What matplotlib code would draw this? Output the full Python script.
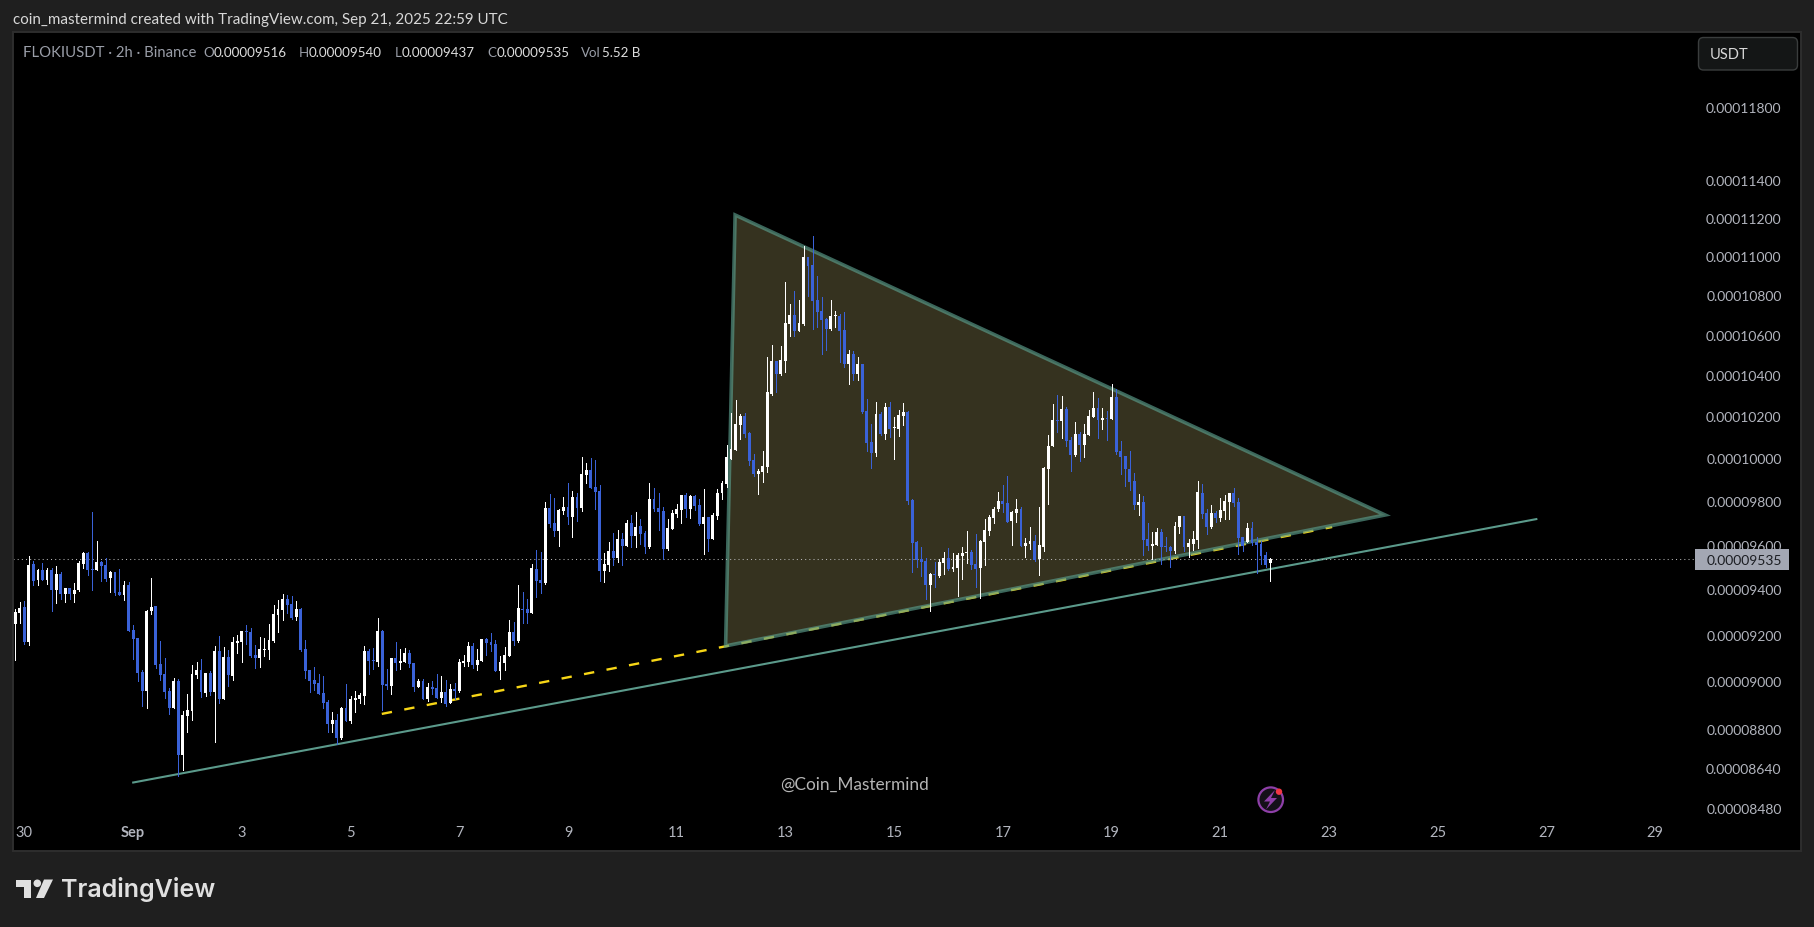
import matplotlib
matplotlib.use("Agg")
import matplotlib.pyplot as plt
from matplotlib.patches import Polygon, Circle, FancyBboxPatch, Rectangle
from matplotlib.transforms import Affine2D
from matplotlib.ticker import NullLocator

FONT = ['Lato', 'DejaVu Sans']
plt.rcParams['font.family'] = FONT

UNIT = 1e-8
opens = [
 9245,9296,9322,9169,9513,9441,9486,9441,9486,9397,
 9468,9379,9406,9379,9397,9513,9562,9490,9486,9522,
 9508,9451,9477,9388,9375,9419,9221,9186,9040,8960,
 9304,9326,9074,9032,8960,8888,9002,8693,8855,8876,
 9027,9049,8951,9036,8956,9130,8926,9104,9023,9165,
 9169,9217,9213,9113,9100,9136,9135,9174,9287,9309,
 9357,9335,9278,9313,9139,9049,9006,8994,8951,8913,
 8821,8838,8763,8888,8834,8922,8926,8939,9130,9091,
 9084,9217,8989,8981,9100,9079,9084,9122,9079,8977,
 9002,8926,8977,8973,8930,8956,8909,8968,8960,9079,
 9084,9152,9070,9087,9182,9169,9161,9044,9079,9108,
 9213,9174,9313,9313,9296,9490,9441,9428,9768,9699,
 9662,9754,9772,9726,9818,9768,9921,9944,9865,9846,
 9481,9508,9571,9540,9626,9594,9699,9639,9685,9653,
 9590,9809,9768,9754,9580,9671,9740,9758,9828,9763,
 9823,9781,9694,9726,9626,9731,9837,9879,9996,10038,
 10157,10200,10119,9991,9925,9935,9958,10306,10468,10404,
 10468,10653,10698,10618,10653,10995,10953,10774,10719,10678,
 10628,10693,10693,10623,10453,10503,10404,10453,10224,10076,
 10024,10210,10114,10244,10143,10138,10200,10220,9804,9612,
 9535,9526,9419,9468,9459,9517,9540,9490,9495,9549,
 9562,9567,9513,9495,9612,9662,9722,9763,9800,9791,
 9708,9745,9763,9594,9603,9617,9535,9590,9948,10057,
 10181,10176,10234,10086,10015,10114,10062,10109,10196,10239,
 10181,10191,10186,10291,10034,10010,9948,9893,9781,9795,
 9626,9594,9599,9658,9594,9590,9571,9680,9731,9590,
 9603,9621,9837,9745,9680,9745,9722,9754,9795,9837,
 9795,9635,9612,9676,9612,9603,9553,9516]
highs = [
 9312,9342,9347,9547,9525,9490,9517,9493,9493,9504,
 9475,9406,9406,9428,9526,9565,9565,9748,9617,9528,
 9538,9481,9477,9490,9437,9431,9243,9186,9049,9309,
 9450,9326,9174,9100,8973,9015,9011,8876,8947,9070,
 9084,9096,9036,9044,9152,9195,9148,9135,9191,9199,
 9217,9243,9230,9156,9191,9186,9247,9331,9353,9379,
 9375,9370,9348,9318,9178,9049,9061,9032,9023,8922,
 8871,8863,8892,8989,8939,8960,8951,9152,9139,9143,
 9274,9221,9053,9100,9169,9139,9143,9135,9079,9011,
 9011,8994,9002,9032,9023,9006,8989,8994,9096,9113,
 9169,9165,9139,9182,9186,9208,9178,9108,9148,9265,
 9256,9419,9388,9357,9513,9576,9567,9795,9832,9814,
 9763,9818,9883,9846,9837,10005,9977,10000,9989,9874,
 9562,9612,9653,9667,9653,9713,9736,9749,9717,9662,
 9883,9860,9837,9772,9717,9758,9786,9828,9837,9828,
 9828,9809,9855,9726,9745,9855,9893,10062,10215,10277,
 10210,10215,10124,10019,9948,10034,10488,10548,10468,10543,
 10866,10754,10820,10774,11052,10995,11104,10897,10789,10683,
 10774,10719,10703,10713,10523,10518,10488,10453,10282,10162,
 10268,10220,10263,10268,10196,10229,10263,10224,9809,9617,
 9590,9540,9472,9522,9535,9567,9585,9562,9562,9590,
 9662,9576,9648,9621,9717,9736,9772,9842,9874,9916,
 9754,9809,9772,9630,9680,9644,9772,9958,10109,10258,
 10301,10297,10244,10100,10172,10124,10162,10229,10316,10287,
 10239,10224,10355,10331,10081,10010,10034,9930,9832,9823,
 9699,9658,9676,9671,9635,9594,9703,9731,9731,9626,
 9662,9893,9879,9763,9781,9754,9814,9828,9837,9860,
 9814,9635,9699,9703,9635,9617,9567,9540]
lows = [
 9093,9252,9161,9156,9419,9419,9441,9424,9304,9339,
 9357,9345,9357,9344,9393,9493,9464,9397,9486,9437,
 9437,9388,9375,9375,9353,9217,9096,9002,8897,8888,
 9291,9057,9006,8930,8863,8888,8609,8631,8787,8838,
 9015,8935,8939,8943,8746,8909,8926,8981,9006,9122,
 9084,9161,9104,9057,9061,9108,9096,9169,9213,9265,
 9296,9269,9265,9130,9015,8956,8964,8947,8888,8787,
 8787,8738,8759,8834,8826,8871,8909,8905,9032,9053,
 9066,8880,8968,8947,9049,9053,9084,9061,8960,8977,
 8926,8918,8947,8930,8913,8897,8909,8926,8956,9066,
 9066,9057,9049,9087,9113,9130,9044,9011,9049,9108,
 9156,9169,9252,9252,9296,9366,9384,9424,9680,9639,
 9594,9740,9694,9635,9708,9754,9883,9860,9763,9437,
 9433,9481,9508,9522,9508,9594,9590,9590,9603,9562,
 9585,9754,9667,9535,9576,9671,9726,9699,9726,9722,
 9758,9690,9558,9571,9626,9717,9809,9865,9996,10038,
 10090,10100,9967,9916,9832,9888,9935,10301,10316,10399,
 10414,10593,10593,10618,10648,10794,10628,10638,10503,10523,
 10623,10638,10463,10438,10355,10375,10375,10215,10034,9953,
 10010,10109,10090,10100,9996,10105,10157,9786,9477,9499,
 9459,9357,9304,9410,9455,9468,9486,9481,9370,9446,
 9517,9490,9410,9361,9508,9644,9699,9754,9749,9703,
 9599,9703,9594,9544,9580,9526,9464,9571,9786,10057,
 10124,10095,10057,9939,10010,9986,10005,10109,10196,10095,
 10138,10086,10186,10019,9925,9869,9851,9763,9736,9553,
 9576,9535,9599,9513,9571,9499,9562,9653,9571,9544,
 9576,9585,9722,9648,9676,9703,9708,9717,9717,9777,
 9558,9571,9612,9599,9472,9513,9499,9437]
closes = [
 9300,9318,9169,9508,9437,9486,9441,9486,9397,9468,
 9379,9406,9379,9397,9517,9562,9486,9487,9522,9504,
 9446,9477,9384,9375,9419,9217,9182,9036,8960,9304,
 9322,9070,9027,8956,8888,9002,8693,8859,8880,9032,
 9049,8956,9036,8956,9130,8926,9104,9027,9169,9174,
 9217,9213,9108,9100,9139,9139,9178,9291,9313,9357,
 9331,9274,9313,9135,9044,9002,8989,8947,8909,8821,
 8838,8763,8888,8834,8926,8930,8943,9130,9087,9087,
 9217,8985,8981,9100,9079,9087,9122,9074,8977,9002,
 8926,8977,8968,8930,8956,8905,8968,8960,9084,9087,
 9152,9070,9091,9182,9165,9156,9044,9084,9113,9213,
 9174,9318,9309,9296,9495,9437,9428,9768,9694,9662,
 9758,9772,9726,9818,9768,9925,9944,9860,9842,9481,
 9513,9571,9540,9626,9594,9699,9639,9680,9648,9590,
 9809,9763,9749,9580,9676,9745,9763,9828,9763,9823,
 9777,9694,9726,9626,9736,9837,9883,10005,10043,10162,
 10200,10114,9986,9925,9939,9962,10316,10468,10404,10473,
 10658,10698,10618,10658,10995,10948,10769,10713,10674,10628,
 10693,10698,10618,10453,10503,10404,10453,10220,10071,10024,
 10210,10114,10244,10138,10148,10205,10220,9800,9608,9530,
 9522,9419,9468,9464,9522,9540,9490,9499,9553,9562,
 9567,9508,9490,9617,9667,9726,9763,9800,9786,9703,
 9749,9763,9594,9608,9617,9530,9599,9953,10057,10181,
 10176,10234,10081,10015,10114,10062,10114,10200,10239,10181,
 10191,10186,10291,10029,10005,9948,9888,9781,9795,9621,
 9594,9603,9658,9590,9590,9571,9685,9731,9590,9608,
 9626,9842,9740,9680,9745,9722,9758,9800,9837,9791,
 9630,9594,9676,9608,9599,9549,9508,9535]

price_ticks = [11800,11400,11200,11000,10800,10600,10400,10200,10000,9800,9600,9400,9200,9000,8800,8640,8480]
date_ticks = [2,26,50,74,98,122,146,170,194,218,242,266,290,314,338,362]
date_labels = ['30','Sep','3','5','7','9','11','13','15','17','19','21','23','25','27','29']

# drawings, in (bar index, price)
triangle_bars = [158.9, 156.8, 302.4]
triangle_prices = [11215, 9152, 9735]
trend_bars = [25.8, 336.0]
trend_prices = [8580, 9717]
dashed_bars = [80.9, 290.7]
dashed_prices = [8863, 9680]

BG = '#1f1f1f'
BLUE = '#3a62d8'
WHITE = '#ffffff'
GREY = '#b2b5be'
px = Affine2D().scale(1, -1).translate(0, 928)

fig = plt.figure(figsize=(18.14, 9.28), dpi=100, facecolor=BG)
L, R, T, B = 13, 1801, 33, 852
ax = fig.add_axes([L/1814, 1-B/928, (R-L)/1814, (B-T)/928], facecolor='black')
ax.set_yscale('log')
ax.set_xlim(-0.51, 394.2)
ax.set_ylim(8308*UNIT, 12226*UNIT)

n = len(opens)
xs = list(range(n))
up = [c >= o for o, c in zip(opens, closes)]
wick_cols = [WHITE if u else BLUE for u in up]

# overlays below the candles
ax.plot(dashed_bars, [p*UNIT for p in dashed_prices], color='#f7d616', lw=1.7,
        linestyle=(0, (4.4, 5.3)), dash_capstyle='butt', zorder=1.6)
tri_xy = list(zip(triangle_bars, [p*UNIT for p in triangle_prices]))
ax.add_patch(Polygon(tri_xy, closed=True, facecolor='#35321f', edgecolor='none', zorder=1.4))
ax.add_patch(Polygon(tri_xy, closed=True, facecolor='none',
                     edgecolor=(88/255, 152/255, 135/255, 0.68), lw=2.6, joinstyle='miter', zorder=1.7))
ax.plot(trend_bars, [p*UNIT for p in trend_prices], color='#5b9a8b', lw=1.5, zorder=1.8,
        solid_capstyle='butt')

ax.axhline(closes[-1]*UNIT, xmin=0, xmax=(1695-L)/(R-L), color='#b4b4b4', lw=0.75,
           linestyle=(0, (1, 3)), zorder=1.9)

# candles
ax.vlines(xs, [v*UNIT for v in lows], [v*UNIT for v in highs], colors=wick_cols,
          linewidth=0.72, zorder=3, antialiased=False)
ax.bar(xs, [abs(c-o)*UNIT for o, c in zip(opens, closes)],
       bottom=[min(o, c)*UNIT for o, c in zip(opens, closes)],
       width=0.64, color=wick_cols, linewidth=0, zorder=3.1)

# axes
ax.yaxis.tick_right()
ax.set_yticks([v*UNIT for v in price_ticks])
ax.set_yticklabels([f'{v*UNIT:.8f}' for v in price_ticks])
ax.yaxis.set_minor_locator(NullLocator())
ax.tick_params(axis='y', length=0, pad=-14, labelcolor=GREY, labelsize=10)
for lab in ax.get_yticklabels():
    lab.set_ha('right')
ax.set_xticks(date_ticks)
ax.set_xticklabels(date_labels)
ax.tick_params(axis='x', length=0, pad=-19, labelcolor=GREY, labelsize=10.5)
for lab, s in zip(ax.get_xticklabels(), date_labels):
    if s == 'Sep':
        lab.set_fontweight('bold')
for s in ax.spines.values():
    s.set_color('#2e2e2e')
    s.set_linewidth(1.4)

def T_(x, y, s, **kw):
    kw.setdefault('va', 'center')
    kw.setdefault('ha', 'left')
    return fig.text(x, y, s, transform=px, **kw)

# header
T_(13, 20, 'coin_mastermind created with TradingView.com, Sep 21, 2025 22:59 UTC', color='#d8d8d8', fontsize=10.9)
# legend
LG = '#9a9ea8'
T_(23, 53, 'FLOKIUSDT · 2h · Binance', color=LG, fontsize=10.7)
for x, s, c in [(203, 'O', LG), (213.4, '0.00009516', '#dddddd'),
                (298.7, 'H', LG), (309, '0.00009540', '#dddddd'),
                (394.6, 'L', LG), (401.8, '0.00009437', '#dddddd'),
                (487, 'C', LG), (496.4, '0.00009535', '#dddddd'),
                (581, 'Vol', LG), (601.8, '5.52 B', '#dddddd')]:
    T_(x, 53, s, color=c, fontsize=9.6)

# USDT button
fig.add_artist(FancyBboxPatch((1702, 42), 92, 25.5, boxstyle='round,pad=3.5,rounding_size=5',
                              transform=px, facecolor='#141616', edgecolor='#3a3d3d', lw=1, zorder=2))
T_(1710, 55, 'USDT', color='#d8d8d8', fontsize=10.5)

# last price tag
fig.add_artist(Rectangle((1695, 550), 94, 21, transform=px, facecolor='#a3a7b3', edgecolor='none', zorder=2))
T_(1782, 561, f'{closes[-1]*UNIT:.8f}', color='#1b1d22', fontsize=10, ha='right')

# watermark and icon
T_(780.5, 785, '@Coin_Mastermind', color='#b4b4b4', fontsize=12.4)
fig.add_artist(Circle((1270.7, 800.7), 12.3, transform=px, facecolor='#141018', edgecolor='#8e3fa8', lw=1.6, zorder=2))
fig.add_artist(Polygon([(1275, 791), (1264, 802.5), (1270, 802.5), (1266, 810.5), (1277, 799), (1271, 799)],
                       closed=True, transform=px, facecolor='#8e3fa8', edgecolor='none', zorder=2))
fig.add_artist(Circle((1279, 792.7), 3.2, transform=px, facecolor='#f23645', edgecolor='none', zorder=2.1))

# TradingView logo
LOGO = '#e0e0e0'
fig.add_artist(Polygon([(15.5, 880.5), (31, 880.5), (31, 899), (23.5, 899), (23.5, 888), (15.5, 888)],
                       closed=True, transform=px, facecolor=LOGO, edgecolor='none'))
fig.add_artist(Circle((37.3, 884.3), 3.8, transform=px, facecolor=LOGO, edgecolor='none'))
fig.add_artist(Polygon([(44, 880.5), (53, 880.5), (44, 899), (36, 899)],
                       closed=True, transform=px, facecolor=LOGO, edgecolor='none'))
T_(61.5, 889.5, 'TradingView', color=LOGO, fontsize=18, fontweight='semibold',
   family=['Inter', 'DejaVu Sans'])

fig.savefig('out.png', dpi=100, facecolor=BG)
